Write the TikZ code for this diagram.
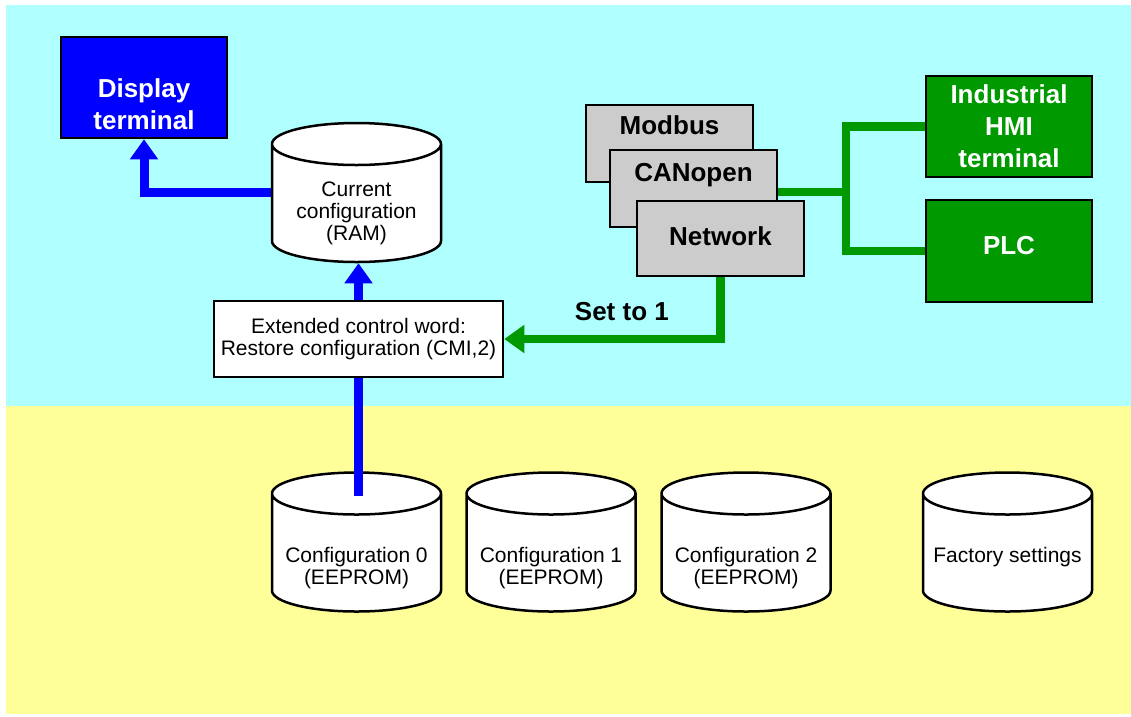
\documentclass[tikz,border=0pt]{standalone}
\usepackage{fontspec}
\setmainfont{Liberation Sans}
\usetikzlibrary{shapes.geometric,arrows.meta,positioning}

\definecolor{skyfill}{RGB}{176,255,255}
\definecolor{sandfill}{RGB}{255,255,153}
\definecolor{termblue}{RGB}{0,0,255}
\definecolor{netgreen}{RGB}{0,153,0}
\definecolor{netgray}{RGB}{204,204,204}

\tikzset{
  termbox/.style={draw, line width=2.5pt, fill=#1, text=white, align=center,
    font=\fontsize{26}{32}\selectfont\bfseries, minimum width=166pt, inner sep=0pt},
  netbox/.style={draw, line width=2.5pt, fill=netgray,
    font=\fontsize{26}{32}\selectfont\bfseries, minimum width=167pt, inner sep=0pt},
  store/.style={cylinder, shape border rotate=90, aspect=0.3, draw, line width=2.5pt,
    fill=white, minimum width=169pt, minimum height=139pt, text width=140pt,
    text height=10pt, text depth=0pt, inner sep=0pt, anchor=shape center},
  storetext/.style={align=center, font=\fontsize{21}{22}\selectfont, inner sep=0pt},
  wordbox/.style={draw, line width=2.5pt, fill=white, align=center,
    font=\fontsize{21}{21.5}\selectfont, minimum width=289pt, minimum height=76pt, inner sep=0pt},
  bluelink/.style={line width=9pt, termblue},
  greenlink/.style={line width=8.5pt, netgreen},
  headed/.style={-{Triangle[width=27pt,length=20pt]}},
  setlabel/.style={font=\fontsize{26}{32}\selectfont\bfseries, text=black, inner sep=0pt}
}

\begin{document}
\begin{tikzpicture}[x=1pt,y=-1pt]
\useasboundingbox (0,0) rectangle (1131,716);
\fill[skyfill] (6,5) rectangle (1131,406);
\fill[sandfill] (6,406) rectangle (1131,714);

% drive side
\node[termbox=termblue, minimum height=101pt] (disp) at (144,87.5) {\rule{0pt}{52pt}Display\\terminal};
\node[store] (cur) at (356.5,192.5) {};
\node[storetext] (curtext) at ([yshift=-20.5pt]cur.shape center) {Current\\configuration\\(RAM)};
\node[wordbox] (word) at (358.5,339) {Extended control word:\\Restore configuration (CMI,2)};

% network side
\node[netbox, text height=29pt, text depth=48pt] (modbus) at (669.5,143.5) {Modbus};
\node[netbox, text height=31pt, text depth=46pt] (canopen) at (693.5,188.5) {CANopen};
\node[netbox, text height=44pt, text depth=31pt] (network) at (720.5,238.5) {Network};
\node[termbox=netgreen, minimum height=101pt] (hmi) at (1009,126.5) {Industrial\\HMI\\terminal};
\node[termbox=netgreen, text height=54pt, text depth=48pt] (plc) at (1009,251) {PLC};

% stored configurations
\node[store] (cfg0) at (356.5,542) {};
\node[store] (cfg1) at (551,542) {};
\node[store] (cfg2) at (746,542) {};
\node[store] (factory) at (1007.5,542) {};
\node[storetext] (cfg0text) at ([yshift=-26pt]cfg0.shape center) {Configuration 0\\(EEPROM)};
\node[storetext] (cfg1text) at ([yshift=-26pt]cfg1.shape center) {Configuration 1\\(EEPROM)};
\node[storetext] (cfg2text) at ([yshift=-26pt]cfg2.shape center) {Configuration 2\\(EEPROM)};
\node[storetext] (factorytext) at ([yshift=-15pt]factory.shape center) {Factory settings};

\coordinate (hub) at (846,192);

\draw[bluelink, headed] (cur.west |- cur.shape center) -| (disp.south);
\draw[bluelink, headed] (word.north) -- (word.north |- cur.south);
\draw[bluelink] (word.south) -- ([yshift=-25pt]word.south |- cfg0.north);

\draw[greenlink] (hub -| canopen.east) -- (hub);
\draw[greenlink] (hmi.west) -| (hub) |- (plc.west);
\draw[greenlink, headed] (network.south) |- node[setlabel, pos=0.728, above=14pt] (setone) {Set to 1} (word.east);
\end{tikzpicture}
\end{document}
